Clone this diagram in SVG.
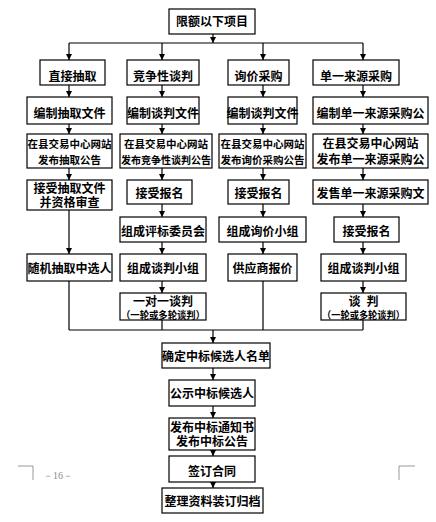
<svg xmlns="http://www.w3.org/2000/svg" width="436" height="522" viewBox="0 0 436 522">
<style>
.b{fill:#fff;stroke:#000;stroke-width:1.2}
.t{font-family:"Liberation Serif","Noto Sans CJK SC",sans-serif;font-size:12px;font-weight:bold;fill:#000;text-anchor:middle}
.s{font-size:10.5px}
.x{font-size:10px}
.c{fill:none;stroke:#000;stroke-width:1.2}
.m{fill:none;stroke:#999;stroke-width:1}
</style>
<defs>
<marker id="a" viewBox="0 0 6 6" refX="6" refY="3" markerWidth="6" markerHeight="6" markerUnits="userSpaceOnUse" orient="auto">
<path d="M0,0 L6,3 L0,6 z" fill="#000"/>
</marker>
</defs>
<rect width="436" height="522" fill="#fff"/>
<g id="connectors">
<path class="c" d="M213,34 V43" marker-end="url(#a)"/>
<path class="c" d="M69,43 H363"/>
<path class="c" d="M69,43 V60" marker-end="url(#a)"/>
<path class="c" d="M162,43 V60" marker-end="url(#a)"/>
<path class="c" d="M263,43 V60" marker-end="url(#a)"/>
<path class="c" d="M363,43 V60" marker-end="url(#a)"/>
<path class="c" d="M69,85 V97" marker-end="url(#a)"/>
<path class="c" d="M69,124 V134" marker-end="url(#a)"/>
<path class="c" d="M69,168 V180" marker-end="url(#a)"/>
<path class="c" d="M69,210 V254" marker-end="url(#a)"/>
<path class="c" d="M162,85 V97" marker-end="url(#a)"/>
<path class="c" d="M162,124 V134" marker-end="url(#a)"/>
<path class="c" d="M162,168 V180" marker-end="url(#a)"/>
<path class="c" d="M162,204 V217" marker-end="url(#a)"/>
<path class="c" d="M162,242 V254" marker-end="url(#a)"/>
<path class="c" d="M162,281 V293" marker-end="url(#a)"/>
<path class="c" d="M263,85 V97" marker-end="url(#a)"/>
<path class="c" d="M263,124 V134" marker-end="url(#a)"/>
<path class="c" d="M263,168 V180" marker-end="url(#a)"/>
<path class="c" d="M263,204 V217" marker-end="url(#a)"/>
<path class="c" d="M263,242 V254" marker-end="url(#a)"/>
<path class="c" d="M363,85 V97" marker-end="url(#a)"/>
<path class="c" d="M363,124 V134" marker-end="url(#a)"/>
<path class="c" d="M363,168 V180" marker-end="url(#a)"/>
<path class="c" d="M363,204 V217" marker-end="url(#a)"/>
<path class="c" d="M363,242 V254" marker-end="url(#a)"/>
<path class="c" d="M363,281 V293" marker-end="url(#a)"/>
<path class="c" d="M69,281 V330 M162,320 V330 M263,281 V330 M363,320 V330 M69,330 H363"/>
<path class="c" d="M213,330 V343" marker-end="url(#a)"/>
<path class="c" d="M213,368 V380" marker-end="url(#a)"/>
<path class="c" d="M213,406 V418" marker-end="url(#a)"/>
<path class="c" d="M213,450 V456" marker-end="url(#a)"/>
<path class="c" d="M213,482 V488" marker-end="url(#a)"/>
</g>
<g id="n0"><rect class="b" x="169" y="9" width="86" height="25"/><text class="t" x="212" y="26">限额以下项目</text></g>
<g id="n1"><rect class="b" x="40" y="60" width="65" height="25"/><text class="t" x="72.5" y="81">直接抽取</text></g>
<g id="n2"><rect class="b" x="127" y="60" width="72" height="25"/><text class="t" x="163" y="81">竞争性谈判</text></g>
<g id="n3"><rect class="b" x="228" y="60" width="61" height="25"/><text class="t" x="258.5" y="81">询价采购</text></g>
<g id="n4"><rect class="b" x="313" y="60" width="86" height="25"/><text class="t" x="356" y="81">单一来源采购</text></g>
<g id="n5"><rect class="b" x="27" y="97" width="85" height="27"/><text class="t" x="69.5" y="118">编制抽取文件</text></g>
<g id="n6"><rect class="b" x="127" y="97" width="72" height="27"/><text class="t" x="163" y="118">编制谈判文件</text></g>
<g id="n7"><rect class="b" x="228" y="97" width="69" height="27"/><text class="t" x="262.5" y="118">编制谈判文件</text></g>
<g id="n8"><rect class="b" x="313" y="97" width="115" height="27"/><text class="t" x="370.5" y="118">编制单一来源采购公</text></g>
<g id="n9"><rect class="b" x="27" y="134" width="85" height="34"/><text class="t s" x="69.5" y="148">在县交易中心网站</text><text class="t s" x="69.5" y="163.5">发布抽取公告</text></g>
<g id="n10"><rect class="b" x="120" y="134" width="92" height="34"/><text class="t s" x="166" y="148">在县交易中心网站</text><text class="t s" x="166" y="163.5" textLength="90" lengthAdjust="spacingAndGlyphs">发布竞争性谈判公告</text></g>
<g id="n11"><rect class="b" x="219" y="134" width="87" height="34"/><text class="t s" x="262.5" y="148">在县交易中心网站</text><text class="t s" x="262.5" y="163.5">发布询价采购公告</text></g>
<g id="n12"><rect class="b" x="313" y="134" width="115" height="34"/><text class="t" x="370.5" y="148">在县交易中心网站</text><text class="t" x="370.5" y="163.5">发布单一来源采购公</text></g>
<g id="n13"><rect class="b" x="27" y="180" width="85" height="30"/><text class="t" x="69.5" y="193">接受抽取文件</text><text class="t" x="69.5" y="207">并资格审查</text></g>
<g id="n14"><rect class="b" x="127" y="180" width="65" height="24"/><text class="t" x="159.5" y="198">接受报名</text></g>
<g id="n15"><rect class="b" x="228" y="180" width="61" height="24"/><text class="t" x="258.5" y="198">接受报名</text></g>
<g id="n16"><rect class="b" x="313" y="180" width="115" height="24"/><text class="t" x="370.5" y="198">发售单一来源采购文</text></g>
<g id="n17"><rect class="b" x="120" y="217" width="86" height="25"/><text class="t" x="163" y="236">组成评标委员会</text></g>
<g id="n18"><rect class="b" x="219" y="217" width="87" height="25"/><text class="t" x="262.5" y="236">组成询价小组</text></g>
<g id="n19"><rect class="b" x="334" y="217" width="65" height="25"/><text class="t" x="366.5" y="236">接受报名</text></g>
<g id="n20"><rect class="b" x="27" y="254" width="85" height="27"/><text class="t" x="69.5" y="273">随机抽取中选人</text></g>
<g id="n21"><rect class="b" x="120" y="254" width="86" height="27"/><text class="t" x="163" y="273">组成谈判小组</text></g>
<g id="n22"><rect class="b" x="228" y="254" width="69" height="27"/><text class="t" x="262.5" y="273">供应商报价</text></g>
<g id="n23"><rect class="b" x="321" y="254" width="85" height="27"/><text class="t" x="363.5" y="273">组成谈判小组</text></g>
<g id="n24"><rect class="b" x="120" y="293" width="86" height="27"/><text class="t" x="163" y="306">一对一谈判</text><text class="t x" x="163" y="318.5" textLength="84" lengthAdjust="spacingAndGlyphs">（一轮或多轮谈判）</text></g>
<g id="n25"><rect class="b" x="321" y="293" width="85" height="27"/><text class="t" x="363.5" y="306" xml:space="preserve">谈  判</text><text class="t x" x="363.5" y="318.5" textLength="83" lengthAdjust="spacingAndGlyphs">（一轮或多轮谈判）</text></g>
<g id="n26"><rect class="b" x="162" y="343" width="108" height="25"/><text class="t" x="216" y="361">确定中标候选人名单</text></g>
<g id="n27"><rect class="b" x="169" y="380" width="86" height="26"/><text class="t" x="212" y="398">公示中标候选人</text></g>
<g id="n28"><rect class="b" x="169" y="418" width="86" height="32"/><text class="t" x="212" y="432">发布中标通知书</text><text class="t" x="212" y="446">发布中标公告</text></g>
<g id="n29"><rect class="b" x="169" y="456" width="86" height="26"/><text class="t" x="212" y="476">签订合同</text></g>
<g id="n30"><rect class="b" x="162" y="488" width="101" height="25"/><text class="t" x="212.5" y="506">整理资料装订归档</text></g>
<g id="page">
<path class="m" d="M18,466 H33 V480"/>
<path class="m" d="M415,466 H399 V480"/>
<text x="58" y="479" font-family="Liberation Serif,serif" font-size="10" fill="#888" text-anchor="middle">－16－</text>
</g>
</svg>
